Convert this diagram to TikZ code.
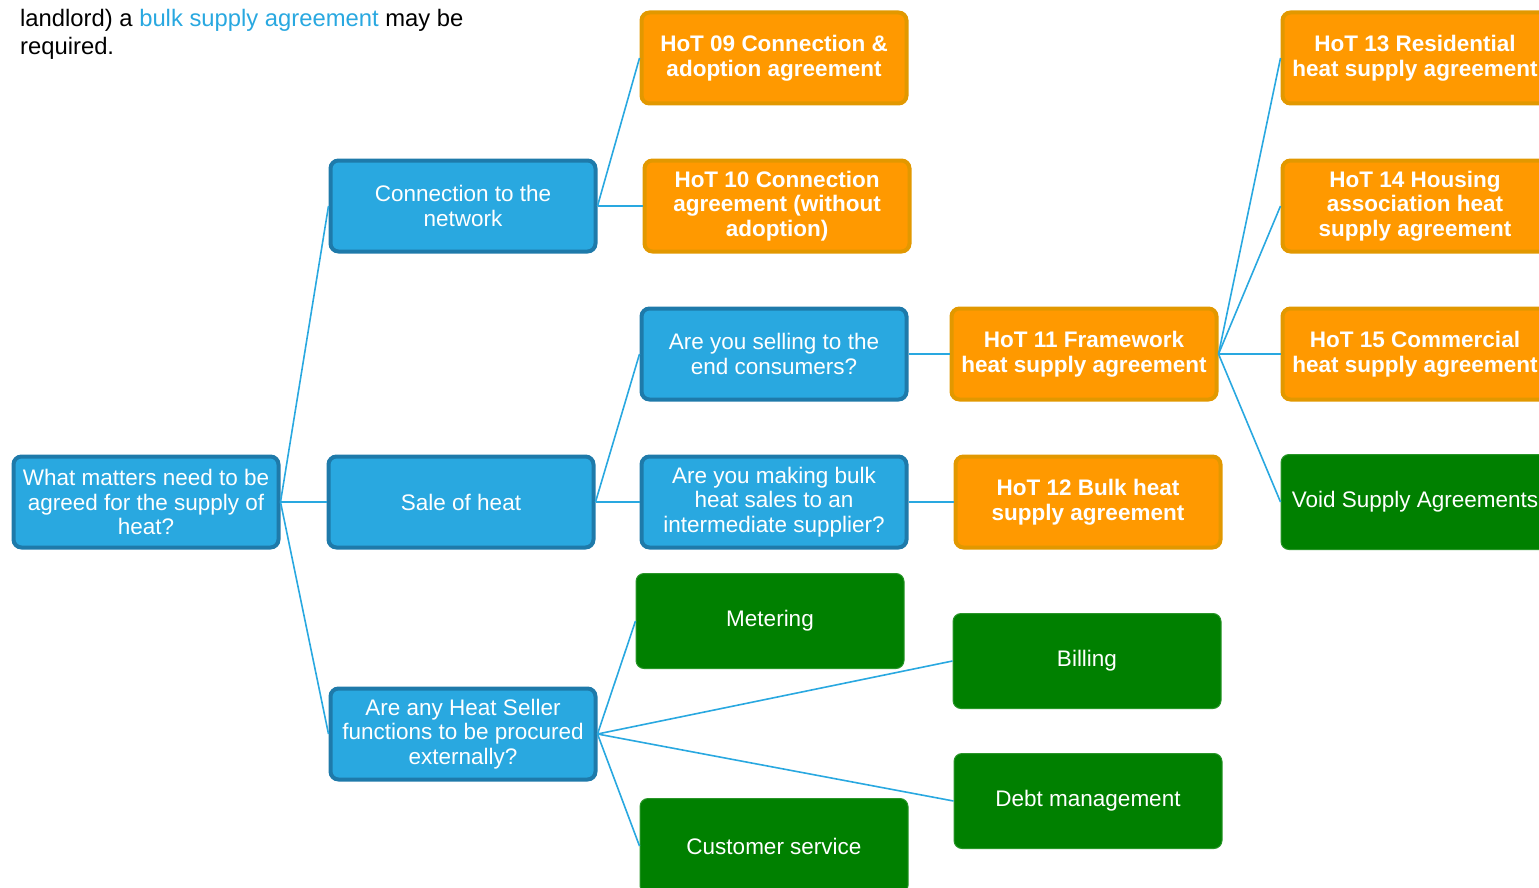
\documentclass[tikz,border=0pt]{standalone}
\usepackage{fontspec}
\setmainfont{Liberation Sans}
\usetikzlibrary{positioning}
\definecolor{qfill}{RGB}{41,168,224}
\definecolor{qdraw}{RGB}{30,122,170}
\definecolor{hotfill}{RGB}{255,153,0}
\definecolor{hotdraw}{RGB}{226,152,0}
\definecolor{taskfill}{RGB}{0,128,0}
\definecolor{taskdraw}{RGB}{40,150,40}
\definecolor{linkblue}{RGB}{41,168,224}
\tikzset{
  box/.style={rectangle,rounded corners=8pt,minimum width=265pt,minimum height=91pt,
    inner sep=2pt,align=center,text=white,font=\fontsize{22.5}{24.5}\selectfont},
  qbox/.style={box,fill=qfill,draw=qdraw,line width=4pt},
  hotbox/.style={box,fill=hotfill,draw=hotdraw,line width=4pt,font=\fontsize{22.5}{24.5}\selectfont\bfseries},
  taskbox/.style={box,fill=taskfill,draw=taskdraw,line width=1pt,minimum width=268pt,minimum height=95pt},
  link/.style={draw=linkblue,line width=1.6pt}
}
\begin{document}
\begin{tikzpicture}[x=1pt,y=-1pt]
    \useasboundingbox (0,0) rectangle (1539,888);
    \clip (0,0) rectangle (1539,888);
    \node[anchor=north west,inner sep=0pt,align=left,font=\fontsize{23.8}{28}\selectfont](intro)at(20,9){landlord) a \textcolor{linkblue}{bulk supply agreement} may be\\required.};
    % first level
    \node[qbox](root)at(146,502){What matters need to be\\agreed for the supply of\\heat?};
    \node[qbox](conn)at(463,206){Connection to the\\network};
    \node[qbox](sale)at(461,502){Sale of heat};
    \node[qbox](func)at(463,734){Are any Heat Seller\\functions to be procured\\externally?};
    % second level
    \node[hotbox](hot09)at(774,58){HoT 09 Connection \&\\adoption agreement};
    \node[hotbox](hot10)at(777,206){HoT 10 Connection\\agreement (without\\adoption)};
    \node[qbox](sell)at(774,354){Are you selling to the\\end consumers?};
    \node[qbox](bulk)at(774,502){Are you making bulk\\heat sales to an\\intermediate supplier?};
    \node[taskbox](meter)at(770,621){Metering};
    \node[taskbox](cust)at(774,846){Customer service};
    % third level
    \node[hotbox](hot11)at(1084,354){HoT 11 Framework\\heat supply agreement};
    \node[hotbox](hot12)at(1088,502){HoT 12 Bulk heat\\supply agreement};
    \node[taskbox](bill)at(1087,661){Billing};
    \node[taskbox](debt)at(1088,801){Debt management};
    % fourth level
    \node[hotbox](hot13)at(1415,58){HoT 13 Residential\\heat supply agreement};
    \node[hotbox](hot14)at(1415,206){HoT 14 Housing\\association heat\\supply agreement};
    \node[hotbox](hot15)at(1415,354){HoT 15 Commercial\\heat supply agreement};
    \node[taskbox](void)at(1415,502){Void Supply Agreements};
    % connectors
    \foreach \a/\b in {root/conn,root/sale,root/func,conn/hot09,conn/hot10,sale/sell,sale/bulk,
      func/meter,func/bill,func/debt,func/cust,sell/hot11,bulk/hot12,
      hot11/hot13,hot11/hot14,hot11/hot15,hot11/void}
      \draw[link](\a.east)--(\b.west);
\end{tikzpicture}
\end{document}
